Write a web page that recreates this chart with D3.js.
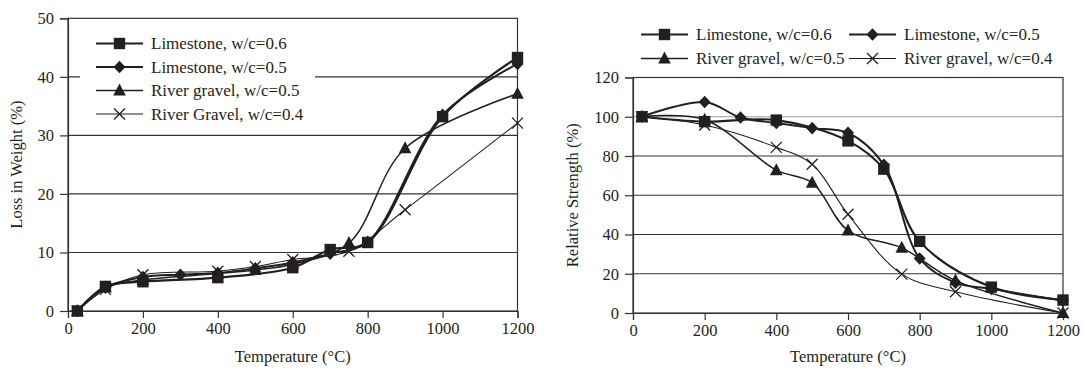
<!DOCTYPE html>
<head>
  <meta charset="utf-8">
  <script src="https://d3js.org/d3.v7.min.js"></script>
  <style>
    body { margin:0; background:white; }
    svg text { font-family:"Liberation Serif","DejaVu Serif",serif !important; fill:#231f20; }
  </style>
</head>
<body>
<script>
var width = 1085, height = 372;

// x ticks shared by both panels
var tempTicks = [0, 200, 400, 600, 800, 1000, 1200];

// left panel: loss in weight (%), [temperature, value]
var lossTicks = [0, 10, 20, 30, 40, 50];
var lossLime06  = [[25,0],[100,4.2],[200,5.0],[400,5.7],[600,7.4],[700,10.5],[800,11.7],[1000,33.2],[1200,43.3]];
var lossLime05  = [[25,0],[100,4.0],[200,5.8],[300,6.2],[400,6.5],[500,7.3],[600,8.3],[700,9.8],[800,11.8],[1000,33.5],[1200,42.2]];
var lossRiver05 = [[25,0],[100,4.0],[200,5.3],[400,6.4],[500,7.0],[600,8.0],[750,11.6],[900,27.8],[1200,37.1]];
var lossRiver04 = [[25,0],[100,3.7],[200,6.2],[400,6.8],[500,7.6],[600,8.8],[750,10.2],[900,17.3],[1200,32.1]];
var lossLabels = ["Limestone, w/c=0.6", "Limestone, w/c=0.5", "River gravel, w/c=0.5", "River Gravel, w/c=0.4"];

// right panel: relative strength (%)
var strTicks = [0, 20, 40, 60, 80, 100, 120];
var strLime06  = [[25,100],[200,97.5],[400,98.3],[600,87.7],[700,73.3],[800,36.5],[1000,13.2],[1200,6.6]];
var strLime05  = [[25,100],[200,107.5],[300,99.6],[400,96.8],[500,94.2],[600,91.8],[700,75.5],[800,27.8],[900,15.5],[1000,12.3],[1200,6.3]];
var strRiver05 = [[25,100],[200,98.5],[400,72.8],[500,66.4],[600,42],[750,33.2],[900,16.5],[1200,0]];
var strRiver04 = [[25,100],[200,95.8],[400,84.4],[500,75.8],[600,50.3],[750,19.8],[900,10.8],[1200,0]];
var strLabels = ["Limestone, w/c=0.6", "Limestone, w/c=0.5", "River gravel, w/c=0.5", "River gravel, w/c=0.4"];

var markers = ["square", "diamond", "triangle", "cross"];
var widths = [2.2, 2, 1.5, 1.1];

var svg = d3.select("body").append("svg")
  .attr("width", width)
  .attr("height", height);

function drawMarker(g, type, x, y) {
  var p;
  if (type == "cross") {
    g.append("path")
      .attr("d", "M-5.5,-5.5L5.5,5.5M5.5,-5.5L-5.5,5.5")
      .attr("transform", "translate(" + x + "," + y + ")")
      .attr("stroke", "#231f20").attr("stroke-width", 1.3).attr("fill", "none");
    return;
  }
  if (type == "square") p = "M-5.7,-5.7H5.7V5.7H-5.7Z";
  if (type == "diamond") p = "M0,-6.3L6,0L0,6.3L-6,0Z";
  if (type == "triangle") p = "M0,-7L6.3,5H-6.3Z";
  g.append("path")
    .attr("d", p)
    .attr("transform", "translate(" + x + "," + y + ")")
    .attr("fill", "#231f20");
}

function drawChart(cfg) {
  var x = d3.scaleLinear().domain([0, 1200]).range([cfg.left, cfg.right]);
  var y = d3.scaleLinear().domain([0, cfg.ymax]).range([cfg.bottom, cfg.top]);
  var g = svg.append("g");

  // gridlines
  g.selectAll(".grid").data(cfg.yticks.slice(1, -1)).enter().append("line")
    .attr("x1", cfg.left).attr("x2", cfg.right)
    .attr("y1", function(d){ return y(d); }).attr("y2", function(d){ return y(d); })
    .attr("stroke", function(d){ return d == cfg.lightGrid ? "#9a9a9a" : "#333"; })
    .attr("stroke-width", 1.1);

  // frame
  g.append("rect")
    .attr("x", cfg.left).attr("y", cfg.top)
    .attr("width", cfg.right - cfg.left).attr("height", cfg.bottom - cfg.top)
    .attr("fill", "none").attr("stroke", "#333").attr("stroke-width", 1.2);

  var xAxis = g.append("g").attr("transform", "translate(0," + cfg.bottom + ")")
    .call(d3.axisBottom(x).tickValues(tempTicks).tickFormat(d3.format("d")).tickSize(7).tickPadding(4));
  var yAxis = g.append("g").attr("transform", "translate(" + cfg.left + ",0)")
    .call(d3.axisLeft(y).tickValues(cfg.yticks).tickFormat(d3.format("d")).tickSize(8).tickPadding(6));
  [xAxis, yAxis].forEach(function(a){
    a.attr("font-family", null);
    a.select(".domain").attr("stroke", "#333").attr("stroke-width", 1.2);
    a.selectAll(".tick line").attr("stroke", "#333").attr("stroke-width", 1.2);
    a.selectAll("text").attr("font-size", 16.5).attr("fill", "#231f20");
  });

  g.append("text")
    .attr("x", (cfg.left + cfg.right) / 2).attr("y", 362)
    .attr("text-anchor", "middle").attr("font-size", 16.5)
    .text("Temperature (°C)");
  g.append("text")
    .attr("transform", "translate(" + cfg.ytitleX + "," + (cfg.top + cfg.bottom) / 2 + ") rotate(-90)")
    .attr("text-anchor", "middle").attr("font-size", 16.5)
    .text(cfg.ytitle);

  // legend
  if (cfg.legendBox) {
    g.append("rect").attr("x", cfg.legendBox[0]).attr("y", cfg.legendBox[1])
      .attr("width", cfg.legendBox[2]).attr("height", cfg.legendBox[3]).attr("fill", "white");
  }
  cfg.legend.forEach(function(p, i){
    g.append("line").attr("x1", p[0]).attr("x2", p[0] + 47).attr("y1", p[1]).attr("y2", p[1])
      .attr("stroke", "#231f20").attr("stroke-width", widths[i]);
    drawMarker(g, markers[i], p[0] + 23.5, p[1]);
    g.append("text").attr("x", p[0] + 55).attr("y", p[1]).attr("dy", "0.33em")
      .attr("font-size", 17).text(cfg.labels[i]);
  });

  var line = d3.line()
    .x(function(d){ return x(d[0]); })
    .y(function(d){ return y(d[1]); })
    .curve(d3.curveCatmullRom.alpha(0.5));

  cfg.series.forEach(function(s, i){
    g.append("path").attr("d", line(s))
      .attr("fill", "none").attr("stroke", "#231f20").attr("stroke-width", widths[i]);
  });
  cfg.series.forEach(function(s, i){
    s.forEach(function(d){ drawMarker(g, markers[i], x(d[0]), y(d[1])); });
  });
}

drawChart({
  left: 68, right: 517.5, top: 18.3, bottom: 311, ymax: 50,
  yticks: lossTicks, ytitle: "Loss in Weight (%)", ytitleX: 22,
  series: [lossLime06, lossLime05, lossRiver05, lossRiver04], labels: lossLabels,
  legendBox: [80, 30, 235, 96],
  legend: [[96, 43.5], [96, 67], [96, 90.5], [96, 114]]
});

drawChart({
  left: 633, right: 1063, top: 77.5, bottom: 313, ymax: 120,
  yticks: strTicks, ytitle: "Relative Strength (%)", ytitleX: 578, lightGrid: 100,
  series: [strLime06, strLime05, strRiver05, strRiver04], labels: strLabels,
  legend: [[641, 34.5], [849, 34.5], [641, 58.5], [849, 58.5]]
});
</script>
</body>
